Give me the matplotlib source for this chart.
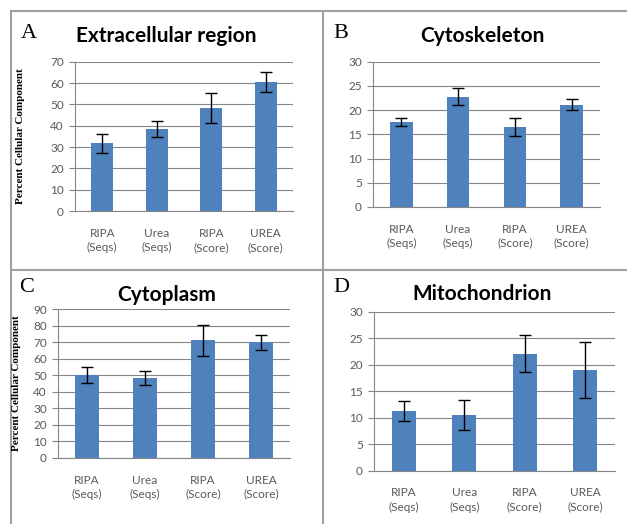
"""Four-panel bar chart: cellular component percentages by extraction method."""

import matplotlib

matplotlib.use("Agg")
import matplotlib.pyplot as plt
from matplotlib.lines import Line2D

categories = ["RIPA\n(Seqs)", "Urea\n(Seqs)", "RIPA\n(Score)", "UREA\n(Score)"]

extracellular = [31.8, 38.3, 48.2, 60.5]
extracellular_err = [4.5, 3.8, 7.0, 4.8]

cytoskeleton = [17.5, 22.8, 16.5, 21.1]
cytoskeleton_err = [0.8, 1.7, 1.9, 1.1]

cytoplasm = [50.2, 48.4, 71.0, 69.8]
cytoplasm_err = [4.8, 4.4, 9.5, 4.3]

mitochondrion = [11.2, 10.5, 22.1, 19.0]
mitochondrion_err = [1.9, 2.8, 3.5, 5.2]

BAR = "#4F81BD"
GRID = "#868686"
TICK = "#595959"
SANS = ["Lato", "DejaVu Sans"]
SERIF = ["Liberation Serif", "DejaVu Serif"]

fig = plt.figure(figsize=(6.27, 5.24), dpi=100)


def panel(rect, values, errs, ymax, step, title, letter, letter_xy, title_xy,
          ylabel_x=None):
    ax = fig.add_axes(rect)
    xs = range(len(values))
    ax.bar(xs, values, width=0.4, color=BAR, zorder=3)
    ax.errorbar(xs, values, yerr=errs, fmt="none", ecolor="black",
                elinewidth=1, capsize=4, capthick=1, zorder=4)
    ax.set_xlim(-0.5, len(values) - 0.5)
    ax.set_ylim(0, ymax)
    ax.set_yticks(range(0, ymax + 1, step))
    ax.set_xticks(list(xs))
    ax.set_xticklabels(categories, fontsize=8.5, color=TICK, family=SANS,
                       linespacing=1.35)
    for lab in ax.get_yticklabels():
        lab.set_fontsize(8.5)
        lab.set_color(TICK)
        lab.set_family(SANS)
    ax.tick_params(axis="x", length=0, pad=12)
    ax.tick_params(axis="y", length=4, color=GRID, pad=4)
    ax.yaxis.grid(True, color=GRID, linewidth=0.8, zorder=0)
    for side in ("top", "right"):
        ax.spines[side].set_visible(False)
    for side in ("left", "bottom"):
        ax.spines[side].set_color(GRID)
        ax.spines[side].set_linewidth(0.8)
    fig.text(title_xy[0] / 627, 1 - title_xy[1] / 524, title, ha="center",
             va="center", fontsize=15, fontweight="bold", family=SANS)
    fig.text(letter_xy[0] / 627, 1 - letter_xy[1] / 524, letter, ha="left",
             va="center", fontsize=16, family=SERIF)
    if ylabel_x is not None:
        mid = rect[1] + rect[3] / 2
        fig.text(ylabel_x / 627, mid, "Percent Cellular Component",
                 rotation=90, ha="center", va="center", fontsize=8,
                 fontweight="bold", family=SERIF)
    return ax


panel([0.1196, 0.5973, 0.3477, 0.2849], extracellular, extracellular_err,
      70, 10, "Extracellular region", "A", (21, 33), (166, 36), ylabel_x=21)
panel([0.5949, 0.6050, 0.3620, 0.2772], cytoskeleton, cytoskeleton_err,
      30, 5, "Cytoskeleton", "B", (333, 33), (482, 36))
panel([0.0925, 0.1260, 0.3700, 0.2843], cytoplasm, cytoplasm_err,
      90, 10, "Cytoplasm", "C", (19, 287), (167, 295), ylabel_x=17)
panel([0.5965, 0.1017, 0.3844, 0.3035], mitochondrion, mitochondrion_err,
      30, 5, "Mitochondrion", "D", (333, 287), (482, 294))

# panel frame lines (pixel positions converted to figure fractions)
frame = dict(color="#A0A0A0", linewidth=1.5)
fig.add_artist(Line2D([11 / 627, 1], [1 - 11 / 524] * 2, **frame))
fig.add_artist(Line2D([11 / 627, 1], [1 - 270 / 524] * 2, **frame))
fig.add_artist(Line2D([11 / 627] * 2, [0, 1 - 11 / 524], **frame))
fig.add_artist(Line2D([323 / 627] * 2, [0, 1 - 11 / 524], **frame))

fig.savefig("out.png", dpi=100)
